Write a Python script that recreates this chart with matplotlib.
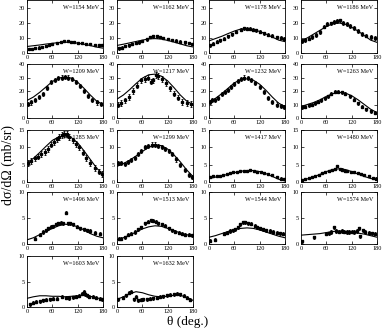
import numpy as np
import matplotlib
matplotlib.use("Agg")
import matplotlib.pyplot as plt

# energies of the panels (MeV)
energies = [1154, 1162, 1178, 1186,
            1209, 1217, 1232, 1263,
            1285, 1299, 1417, 1480,
            1496, 1513, 1544, 1574,
            1603, 1632]

# upper y limit and y tick values for each row
row_ymax = [35, 40, 15, 10, 10]
row_yticks = [[0, 10, 20, 30], [0, 10, 20, 30, 40], [0, 5, 10, 15],
              [0, 5, 10], [0, 5, 10]]

# model curve, read at these angles
theta_curve = [0, 15, 30, 45, 60, 75, 90, 105, 120, 135, 150, 165, 180]
curves = [
    [4.3, 4.8, 5.3, 5.9, 6.4, 6.9, 7.1, 7.0, 6.5, 5.8, 4.9, 3.9, 3.2],
    [5.0, 5.8, 6.7, 7.6, 8.5, 9.3, 9.5, 9.2, 8.3, 7.2, 6.0, 4.8, 4.0],
    [8.0, 9.5, 11.0, 12.8, 14.5, 15.8, 16.0, 15.5, 14.2, 12.5, 10.5, 8.5, 7.5],
    [8.0, 10.0, 12.5, 15.0, 17.5, 19.3, 19.8, 19.0, 17.0, 14.5, 11.5, 8.5, 7.0],
    [13, 15.5, 19, 23, 27, 29.5, 30.5, 29.5, 26.5, 22, 17, 12.5, 10],
    [14, 17, 21, 25.5, 29.5, 32, 32.5, 31, 27.5, 22.5, 17, 12.5, 10],
    [12, 14.5, 18, 22, 26, 28.5, 29, 28, 25, 20.5, 15.5, 11, 8.5],
    [8.5, 10, 11.5, 13.5, 16, 18, 19, 18.5, 16.5, 13.5, 10, 6.5, 4],
    [5.5, 6.8, 8.5, 10.3, 12, 13, 13.3, 12.8, 11.3, 9, 6.5, 4, 2.2],
    [4.5, 5.3, 6.3, 7.5, 8.8, 10, 10.7, 10.5, 9.5, 7.8, 5.8, 3.5, 1.6],
    [1.0, 1.4, 1.8, 2.2, 2.7, 3.1, 3.3, 3.3, 3.0, 2.4, 1.6, 0.8, 0.3],
    [0.5, 0.9, 1.5, 2.2, 3.0, 3.6, 3.8, 3.6, 3.0, 2.3, 1.6, 1.0, 0.8],
    [0.8, 1.2, 1.8, 2.4, 3.0, 3.5, 3.8, 3.7, 3.3, 2.7, 2.0, 1.5, 1.2],
    [0.8, 1.2, 1.7, 2.3, 2.9, 3.3, 3.5, 3.4, 3.0, 2.6, 2.1, 1.8, 1.5],
    [1.3, 1.6, 2.0, 2.4, 2.8, 3.0, 3.1, 3.0, 2.7, 2.3, 1.9, 1.5, 1.2],
    [1.7, 1.8, 1.9, 2.0, 2.2, 2.4, 2.5, 2.4, 2.3, 2.1, 1.9, 1.6, 1.3],
    [1.7, 2.0, 2.2, 2.2, 2.1, 2.1, 2.0, 2.1, 2.2, 2.3, 2.1, 1.8, 1.5],
    [1.5, 2.0, 2.6, 3.0, 2.8, 2.4, 2.1, 2.0, 2.1, 2.3, 2.3, 1.9, 1.3],
]

# measured points
data_theta = [
    [5, 12, 20, 28, 36, 44, 52, 60, 70, 80, 88, 96, 104, 112, 120, 130, 140, 150, 160, 170, 178],
    [5, 12, 20, 28, 36, 44, 52, 60, 70, 78, 86, 94, 102, 110, 120, 130, 140, 150, 160, 170, 178],
    [3, 10, 18, 25, 35, 45, 55, 65, 75, 82, 90, 98, 105, 112, 120, 130, 140, 150, 160, 170, 178],
    [3, 10, 18, 25, 35, 45, 55, 62, 70, 78, 85, 92, 100, 108, 115, 125, 135, 145, 155, 165, 175],
    [3, 10, 18, 28, 38, 48, 58, 66, 74, 82, 90, 98, 106, 115, 125, 135, 145, 155, 165, 175],
    [3, 10, 18, 28, 38, 48, 58, 66, 74, 80, 86, 92, 98, 106, 115, 125, 135, 145, 155, 165, 175],
    [3, 8, 15, 22, 30, 38, 45, 52, 60, 68, 76, 84, 92, 100, 110, 120, 130, 140, 150, 160, 170, 177],
    [3, 10, 18, 25, 32, 40, 48, 56, 64, 72, 80, 88, 96, 105, 115, 125, 135, 145, 155, 165, 175],
    [3, 10, 18, 26, 34, 42, 50, 58, 64, 70, 76, 82, 88, 94, 100, 108, 116, 124, 132, 140, 150, 160, 170, 177],
    [3, 10, 18, 26, 34, 42, 50, 58, 66, 74, 82, 90, 98, 106, 114, 122, 130, 140, 150, 160, 170, 177],
    [3, 10, 18, 26, 34, 42, 50, 58, 66, 74, 82, 90, 98, 106, 114, 122, 130, 140, 150, 160, 170, 177],
    [3, 10, 18, 26, 34, 42, 50, 58, 66, 74, 80, 86, 92, 98, 104, 110, 118, 126, 134, 142, 150, 160, 170, 177],
    [20, 30, 38, 44, 50, 56, 62, 68, 74, 80, 86, 92, 96, 102, 110, 118, 126, 134, 142, 150, 160, 172],
    [5, 10, 18, 26, 34, 42, 50, 58, 66, 74, 80, 86, 92, 98, 106, 114, 122, 130, 138, 146, 154, 162, 170, 177],
    [3, 15, 35, 42, 50, 56, 62, 68, 74, 80, 86, 92, 100, 108, 114, 120, 128, 136, 144, 152, 160, 168, 176],
    [3, 30, 60, 66, 72, 78, 84, 90, 96, 102, 108, 114, 120, 126, 132, 138, 140, 146, 152, 160, 168, 176],
    [8, 15, 22, 30, 38, 46, 54, 62, 72, 82, 92, 100, 108, 116, 124, 130, 134, 138, 142, 148, 156, 164, 172, 178],
    [3, 15, 22, 28, 34, 40, 44, 50, 56, 62, 70, 78, 86, 94, 102, 110, 118, 126, 134, 142, 150, 158, 166, 174],
]
data_y = [
    [2.5, 2.8, 3.2, 3.6, 4.2, 4.8, 5.3, 6.0, 6.8, 7.5, 7.8, 7.8, 7.5, 7.0, 6.8, 6.4, 6.0, 5.7, 5.5, 5.4, 5.5],
    [3.0, 3.5, 4.5, 5.0, 5.8, 6.5, 7.0, 7.8, 9.0, 10.5, 11.0, 11.0, 10.5, 10.0, 9.3, 8.7, 8.2, 7.5, 7.0, 6.5, 6.0],
    [5.0, 6.0, 7.5, 8.5, 9.5, 11.0, 12.5, 14.0, 15.5, 16.5, 16.0, 16.0, 15.5, 15.0, 14.0, 13.0, 12.0, 11.5, 10.5, 10.0, 9.5],
    [8.0, 8.5, 9.5, 10.5, 12.0, 14.0, 17.5, 19.0, 19.5, 20.5, 21.0, 21.5, 20.0, 19.0, 18.0, 16.5, 14.5, 12.5, 11.5, 10.5, 10.0],
    [10.5, 11.5, 13, 15.5, 18, 22, 27, 28.5, 29.5, 30, 30.5, 30, 29, 27, 24, 20, 16.5, 13.5, 11.5, 10.5],
    [10, 11, 13, 15.5, 20, 24, 28, 29, 30, 27, 28, 32, 31, 29, 26, 22, 18, 15, 12, 11, 10.5],
    [12, 13, 13.5, 15, 18, 19.5, 21, 23, 25.5, 27.5, 29, 30, 29.5, 28.5, 26, 23, 19, 15, 12, 10, 9, 8.5],
    [8, 8.5, 9.5, 10, 11, 12, 13, 14.5, 16, 18, 19.5, 19.5, 19, 18, 16, 13.5, 11, 8.5, 6.5, 5, 4],
    [5.5, 6, 6.8, 7.3, 8, 8.7, 9.5, 10.8, 11.5, 12.3, 13, 13.5, 13.8, 13.8, 13, 12, 11, 10, 8.5, 7, 5.5, 4, 3, 2.3],
    [5.5, 5.5, 5.3, 5.8, 6.3, 7, 8, 9, 10, 10.5, 10.8, 10.8, 10.5, 10, 9.5, 9, 8, 6.5, 5, 3.5, 2, 1.5],
    [1.5, 1.6, 1.8, 1.7, 2.0, 2.3, 2.5, 2.8, 3.0, 3.1, 3.2, 3.3, 3.5, 3.3, 3.0, 2.8, 2.6, 2.3, 2.0, 1.5, 1.0, 0.8],
    [0.6, 0.9, 1.2, 1.5, 1.8, 2.1, 2.5, 2.8, 3.2, 3.5, 3.8, 4.5, 3.8, 3.6, 3.3, 3.2, 3.0, 2.8, 2.5, 2.3, 2.0, 1.6, 1.2, 1.0],
    [1.0, 1.8, 2.3, 2.6, 3.0, 3.3, 3.4, 3.8, 4.0, 4.1, 4.0, 6.0, 4.0, 4.0, 3.8, 3.3, 3.0, 2.8, 2.6, 2.5, 2.2, 2.0],
    [1.0, 1.0, 1.3, 1.8, 2.0, 2.3, 2.8, 3.2, 4.0, 4.3, 4.6, 4.5, 4.3, 4.0, 3.8, 3.5, 3.0, 2.6, 2.4, 2.2, 2.0, 1.8, 1.8, 1.7],
    [0.6, 0.8, 2.0, 2.2, 2.5, 2.6, 2.8, 3.2, 3.8, 4.2, 4.2, 4.0, 3.9, 3.5, 3.2, 3.0, 2.8, 2.6, 2.5, 2.3, 2.2, 2.1, 2.0],
    [0.5, 1.3, 2.0, 2.1, 2.3, 3.2, 2.5, 2.4, 2.5, 2.4, 2.3, 2.3, 2.4, 2.3, 2.5, 3.0, 1.5, 2.6, 2.4, 2.2, 2.1, 2.0],
    [0.5, 0.8, 1.0, 1.1, 1.3, 1.4, 1.5, 1.6, 1.6, 2.0, 1.8, 1.7, 1.9, 2.0, 2.2, 2.6, 3.0, 2.5, 2.3, 2.0, 2.0, 1.8, 1.6, 1.5],
    [1.5, 1.8, 2.3, 2.8, 3.0, 1.5, 2.0, 1.3, 1.4, 1.5, 1.5, 1.6, 1.7, 1.8, 2.0, 2.1, 2.3, 2.4, 2.5, 2.6, 2.5, 2.2, 1.8, 1.4],
]
# typical error bar half-height in each panel
errs = [0.7, 0.8, 1.0, 1.2, 1.5, 2.0, 1.5, 1.0, 0.8, 0.6, 0.3, 0.3,
        0.3, 0.3, 0.3, 0.3, 0.3, 0.3]

plt.rcParams['font.family'] = ['Liberation Serif', 'DejaVu Serif']

W, H = 382, 330
fig = plt.figure(figsize=(W / 100, H / 100), dpi=100)

# panel frames in pixels
col_left = [27, 117, 209, 301]
col_width = 76
row_top = [0, 64, 130, 192, 256]
row_bottom = [53, 118, 182, 244, 307]

for i, w in enumerate(energies):
    r, c = divmod(i, 4)
    ax = fig.add_axes([col_left[c] / W, 1 - row_bottom[r] / H,
                       col_width / W, (row_bottom[r] - row_top[r]) / H])
    ax.plot(theta_curve, curves[i], color='black', lw=0.8)
    ax.errorbar(data_theta[i], data_y[i], yerr=errs[i], fmt='s',
                color='black', ms=1.7, elinewidth=0.6, capsize=0.8,
                capthick=0.6)
    ax.set_xlim(0, 180)
    ax.set_ylim(0, row_ymax[r])
    ax.set_xticks([0, 60, 120, 180])
    ax.set_yticks(row_yticks[r])
    ax.tick_params(direction='in', top=True, right=True, length=2.5,
                   width=0.5, labelsize=4.5, pad=1.5)
    for s in ax.spines.values():
        s.set_linewidth(0.6)
    ax.text(0.95, 0.86, 'W=%d MeV' % w, transform=ax.transAxes,
            ha='right', va='center', fontsize=4.5)

fig.text(8.5 / W, 1 - 165 / H, 'dσ/dΩ (mb/sr)', rotation=90,
         ha='center', va='center', fontsize=10)
fig.text(188 / W, 1 - 322 / H, 'θ (deg.)', ha='center',
         va='center', fontsize=9.5)

fig.savefig('out.png', dpi=100)
